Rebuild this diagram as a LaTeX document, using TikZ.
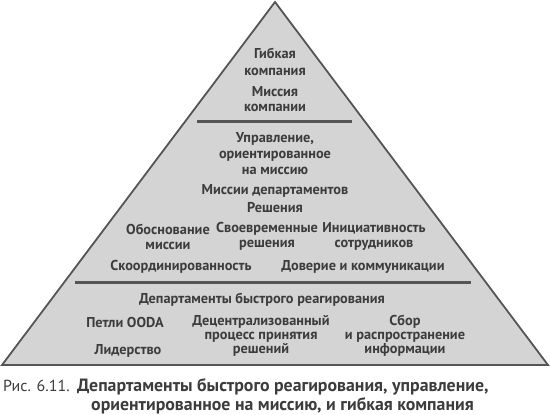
\documentclass[tikz,border=0pt]{standalone}
\usepackage{fontspec}
\setmainfont{PT Sans}
\definecolor{pyrfill}{HTML}{D4D4D4}
\definecolor{pyrline}{HTML}{555555}
\definecolor{txt}{HTML}{3C3C3C}
\begin{document}
\begin{tikzpicture}[x=1pt,y=-1pt,
  lbl/.style={text=txt,font=\bfseries\fontsize{14.3}{15}\selectfont,align=center,inner sep=0pt},
  sep/.style={draw=pyrline,line width=3pt},
  captxt/.style={text=txt,font=\fontsize{16}{19}\selectfont,inner sep=0pt,anchor=base west}]
\useasboundingbox (0,0) rectangle (550,415);
\coordinate (apex) at (275,2);
\coordinate (bl) at (2,365);
\coordinate (br) at (548,365);
\draw[fill=pyrfill,draw=pyrline,line width=1.8pt,line join=miter] (apex) -- (br) -- (bl) -- cycle;
\coordinate (s1a) at (197,121);
\coordinate (s1b) at (352,121);
\coordinate (s2a) at (75,282);
\coordinate (s2b) at (471,282);
\draw[sep] (s1a) -- (s1b);
\draw[sep] (s2a) -- (s2b);
% top
\node[lbl,font=\bfseries\fontsize{14.3}{16.5}\selectfont] (flex) at (275,62) {Гибкая\\компания};
\node[lbl] (mis) at (275,99) {Миссия\\компании};
% middle
\node[lbl,font=\bfseries\fontsize{14.3}{16}\selectfont] (mgmt) at (275,154) {Управление,\\ориентированное\\на миссию};
\node[lbl] (dep) at (275,191) {Миссии департаментов};
\node[lbl] (dec) at (275,208) {Решения};
\node[lbl] (obo) at (168,236.5) {Обоснование\\миссии};
\node[lbl] (svo) at (267,236.5) {Своевременные\\решения};
\node[lbl] (ini) at (374,236.5) {Инициативность\\сотрудников};
\node[lbl] (sko) at (181,267) {Скоординированность};
\node[lbl] (dov) at (363,267) {Доверие и коммуникации};
% bottom
\node[lbl] (fast) at (262,300) {Департаменты быстрого реагирования};
\node[lbl] (ooda) at (125,322) {Петли OODA};
\node[lbl] (lead) at (128,351) {Лидерство};
\node[lbl,font=\bfseries\fontsize{14.3}{14}\selectfont] (decen) at (261,336) {Децентрализованный\\процесс принятия\\решений};
\node[lbl,font=\bfseries\fontsize{14.3}{14}\selectfont] (info) at (405,336) {Сбор\\и распространение\\информации};
% caption
\node[captxt] (capnum) at (3,391) {Рис. 6.11.};
\node[captxt,font=\bfseries\fontsize{17.8}{19}\selectfont] (cap1) at (77,391) {Департаменты быстрого реагирования, управление,};
\node[captxt,font=\bfseries\fontsize{17.8}{19}\selectfont] (cap2) at (91,410) {ориентированное на миссию, и гибкая компания};
\end{tikzpicture}
\end{document}
